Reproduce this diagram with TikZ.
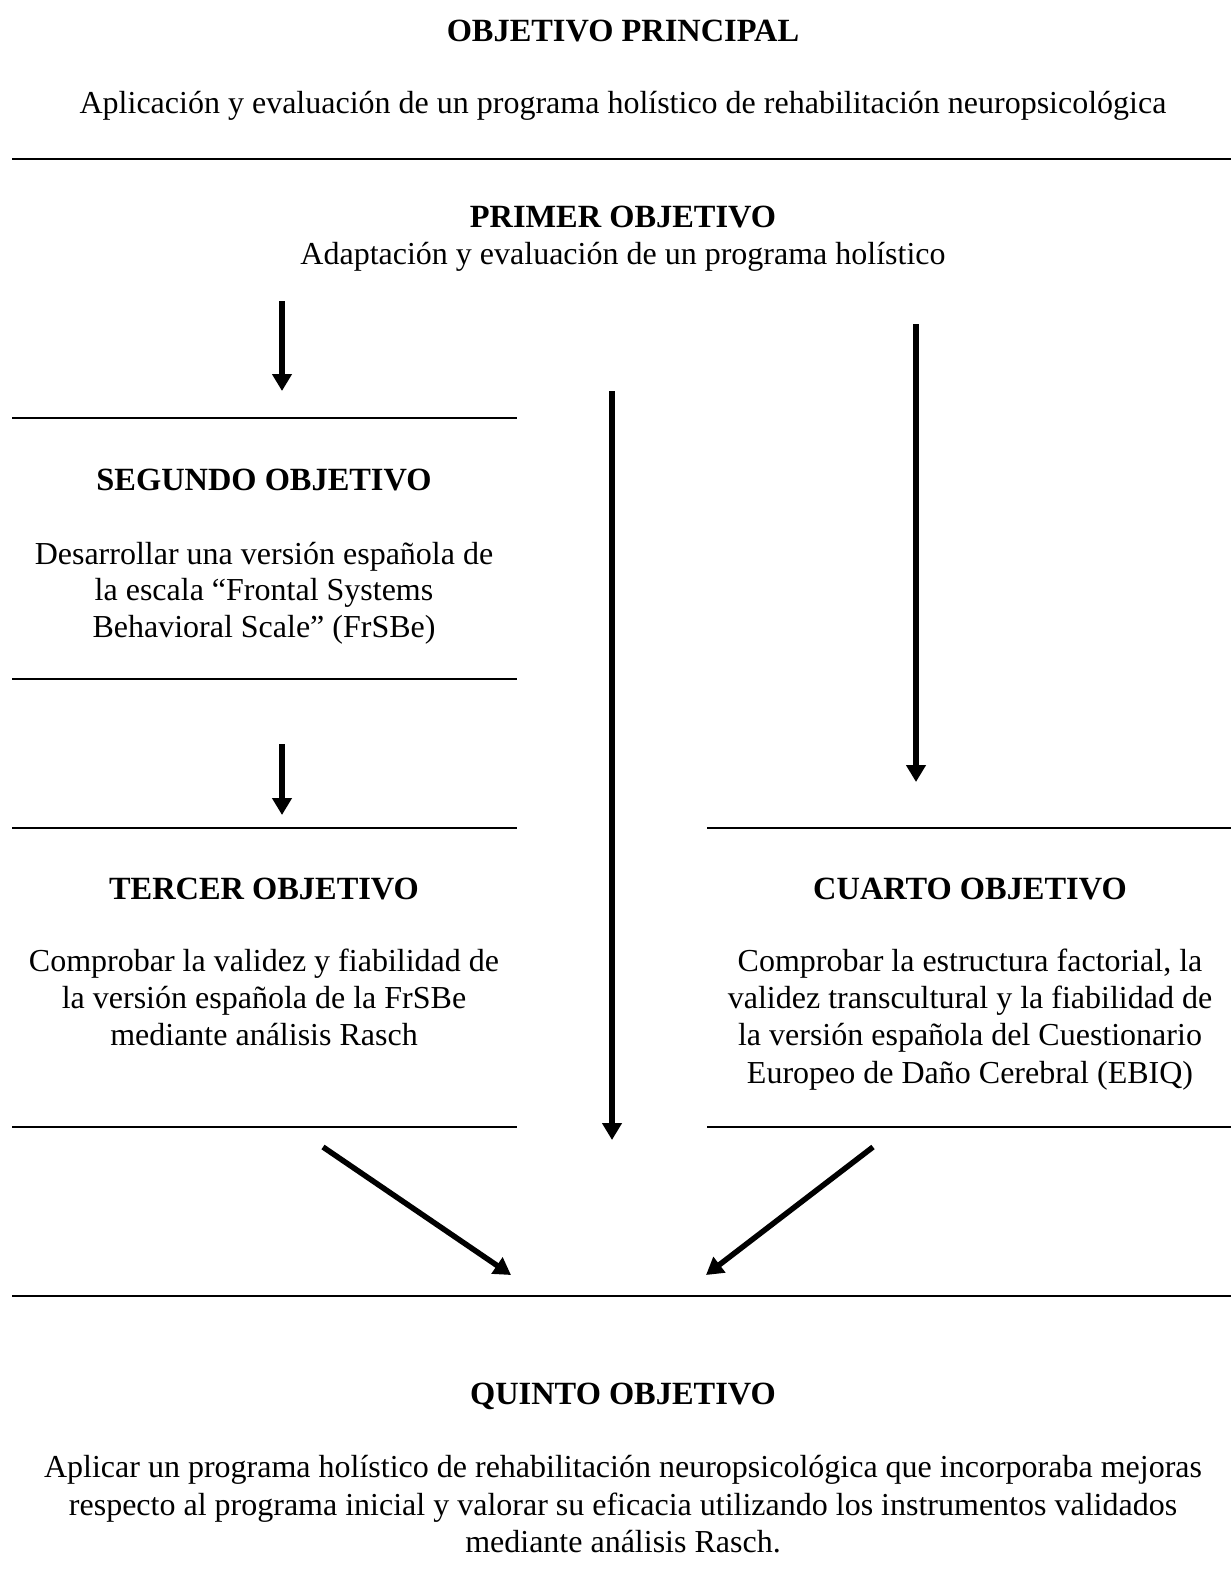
\documentclass[tikz,border=0pt]{standalone}
\usepackage{fontspec}
\setmainfont{Liberation Serif}
\usetikzlibrary{arrows.meta}
\begin{document}
\begin{tikzpicture}[x=1pt,y=-1pt,
  txt/.style={inner sep=0pt,anchor=base,font=\fontsize{32}{37}\selectfont},
  hd/.style={inner sep=0pt,anchor=base,font=\fontsize{32.4}{37}\selectfont\bfseries},
  rule/.style={line width=2.6pt},
  arr/.style={line width=5.5pt,-{Triangle[length=17pt,width=19pt]}}]
\useasboundingbox (0,0) rectangle (1231,1590);
% headings and texts
\node[hd] (hp) at (623,41) {OBJETIVO PRINCIPAL};
\node[txt] (tp) at (623,113) {Aplicación y evaluación de un programa holístico de rehabilitación neuropsicológica};
\draw[rule] (12,159) coordinate (l1a) -- (1231,159) coordinate (l1b);
\node[hd] (h1) at (623,227) {PRIMER OBJETIVO};
\node[txt] (t1) at (623,264) {Adaptación y evaluación de un programa holístico};
% left column
\draw[rule] (12,418) coordinate (l2a) -- (517,418) coordinate (l2b);
\node[hd] (h2) at (264,490) {SEGUNDO OBJETIVO};
\node[txt] (t2a) at (264,564) {Desarrollar una versión española de};
\node[txt] (t2b) at (264,600) {la escala “Frontal Systems};
\node[txt] (t2c) at (264,637) {Behavioral Scale” (FrSBe)};
\draw[rule] (12,679) coordinate (l3a) -- (517,679) coordinate (l3b);
\draw[rule] (12,828) coordinate (l4a) -- (517,828) coordinate (l4b);
\node[hd] (h3) at (264,899) {TERCER OBJETIVO};
\node[txt] (t3a) at (264,971) {Comprobar la validez y fiabilidad de};
\node[txt] (t3b) at (264,1008) {la versión española de la FrSBe};
\node[txt] (t3c) at (264,1045) {mediante análisis Rasch};
\draw[rule] (12,1127) coordinate (l5a) -- (517,1127) coordinate (l5b);
% right column
\draw[rule] (707,828) coordinate (r4a) -- (1231,828) coordinate (r4b);
\node[hd] (h4) at (970,899) {CUARTO OBJETIVO};
\node[txt] (t4a) at (970,971) {Comprobar la estructura factorial, la};
\node[txt] (t4b) at (970,1008) {validez transcultural y la fiabilidad de};
\node[txt] (t4c) at (970,1045) {la versión española del Cuestionario};
\node[txt] (t4d) at (970,1083) {Europeo de Daño Cerebral (EBIQ)};
\draw[rule] (707,1127) coordinate (r5a) -- (1231,1127) coordinate (r5b);
% bottom
\draw[rule] (12,1296) coordinate (l6a) -- (1231,1296) coordinate (l6b);
\node[hd] (h5) at (623,1404) {QUINTO OBJETIVO};
\node[txt] (t5a) at (623,1477) {Aplicar un programa holístico de rehabilitación neuropsicológica que incorporaba mejoras};
\node[txt] (t5b) at (623,1515) {respecto al programa inicial y valorar su eficacia utilizando los instrumentos validados};
\node[txt] (t5c) at (623,1552) {mediante análisis Rasch.};
% arrows
\coordinate (a1s) at (282,301); \coordinate (a1e) at (282,391);
\coordinate (a2s) at (282,744); \coordinate (a2e) at (282,815);
\coordinate (a3s) at (612,391); \coordinate (a3e) at (612,1140);
\coordinate (a4s) at (916,324); \coordinate (a4e) at (916,782);
\coordinate (a5s) at (323,1147); \coordinate (a5e) at (511,1275);
\coordinate (a6s) at (873,1147); \coordinate (a6e) at (706,1275);
\draw[arr] (a1s) -- (a1e);
\draw[arr] (a2s) -- (a2e);
\draw[arr] (a3s) -- (a3e);
\draw[arr] (a4s) -- (a4e);
\draw[arr] (a5s) -- (a5e);
\draw[arr] (a6s) -- (a6e);
\end{tikzpicture}
\end{document}
